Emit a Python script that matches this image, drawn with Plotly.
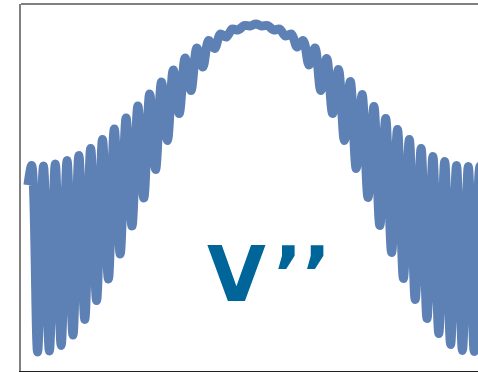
import plotly.graph_objects as go

# Sample positions (half-period steps) and the V'' curve values at each extremum
t = [-0.63,
     0, 1, 2, 3, 4, 5, 6, 7, 8, 9, 10, 11, 12, 13, 14, 15, 16, 17, 18, 19,
     20, 21, 22, 23, 24, 25, 26, 27, 28, 29, 30, 31, 32, 33, 34, 35, 36, 37, 38,
     39, 40, 41, 42, 43, 44, 45, 46, 47, 48, 49, 50, 51, 52, 53, 54, 55, 56, 57,
     58, 59, 60, 61, 62, 63, 64, 65, 66, 67, 68, 69, 70, 71, 72, 73, 74, 75, 76,
     76.63]
v = [186,
     205.5, 19, 205, 20, 207, 25.5, 210.5, 36, 215.5, 51.5, 222.5, 70.5, 231.5, 92,
     242, 117, 253, 145, 265, 173, 277, 201.5, 289, 230.5, 301, 257.5, 313, 280.5,
     323, 304, 330.5, 322.5, 337, 334, 342, 341, 345.5, 345, 347,
     345, 345.5, 341, 342, 335, 337, 324, 330.5, 306, 323, 280.5, 312.5, 257.5,
     301.5, 230.5, 289.5, 202.5, 276.5, 173.5, 264.5, 145.5, 252.5, 118.5, 241.5,
     92.5, 231.5, 71.5, 222.5, 52.5, 214.5, 37.5, 209.5, 26.5, 205.5, 20.5, 204.5,
     19.5, 205,
     186]

label = "V\u200a\u2019\u2019"

fig = go.Figure()
fig.add_trace(go.Scatter(
    x=t, y=v, mode="lines",
    line=dict(color="#5E81B5", width=9, shape="spline", smoothing=1),
    hoverinfo="skip", showlegend=False,
))

fig.add_annotation(
    text=label, xref="paper", yref="paper", x=0.542, y=0.262,
    xanchor="center", yanchor="middle", showarrow=False,
    font=dict(family="DejaVu Sans", size=76, color="#006699", weight="bold"),
)

# top edge of the frame
fig.add_shape(type="line", xref="paper", yref="paper", x0=0, x1=1, y0=1, y1=1,
              line=dict(color="#808080", width=2))

fig.update_xaxes(range=[-1.81, 75.64], showgrid=False, zeroline=False,
                 showticklabels=False, ticks="", showline=True,
                 linecolor="#222222", linewidth=1.5)
fig.update_yaxes(range=[0, 367], showgrid=False, zeroline=False,
                 showticklabels=False, ticks="", showline=True,
                 linecolor="#808080", linewidth=2)

fig.update_layout(
    width=478, height=372,
    margin=dict(l=21, r=0, t=4, b=1),
    paper_bgcolor="white", plot_bgcolor="white",
)

fig.write_html("out.html")
